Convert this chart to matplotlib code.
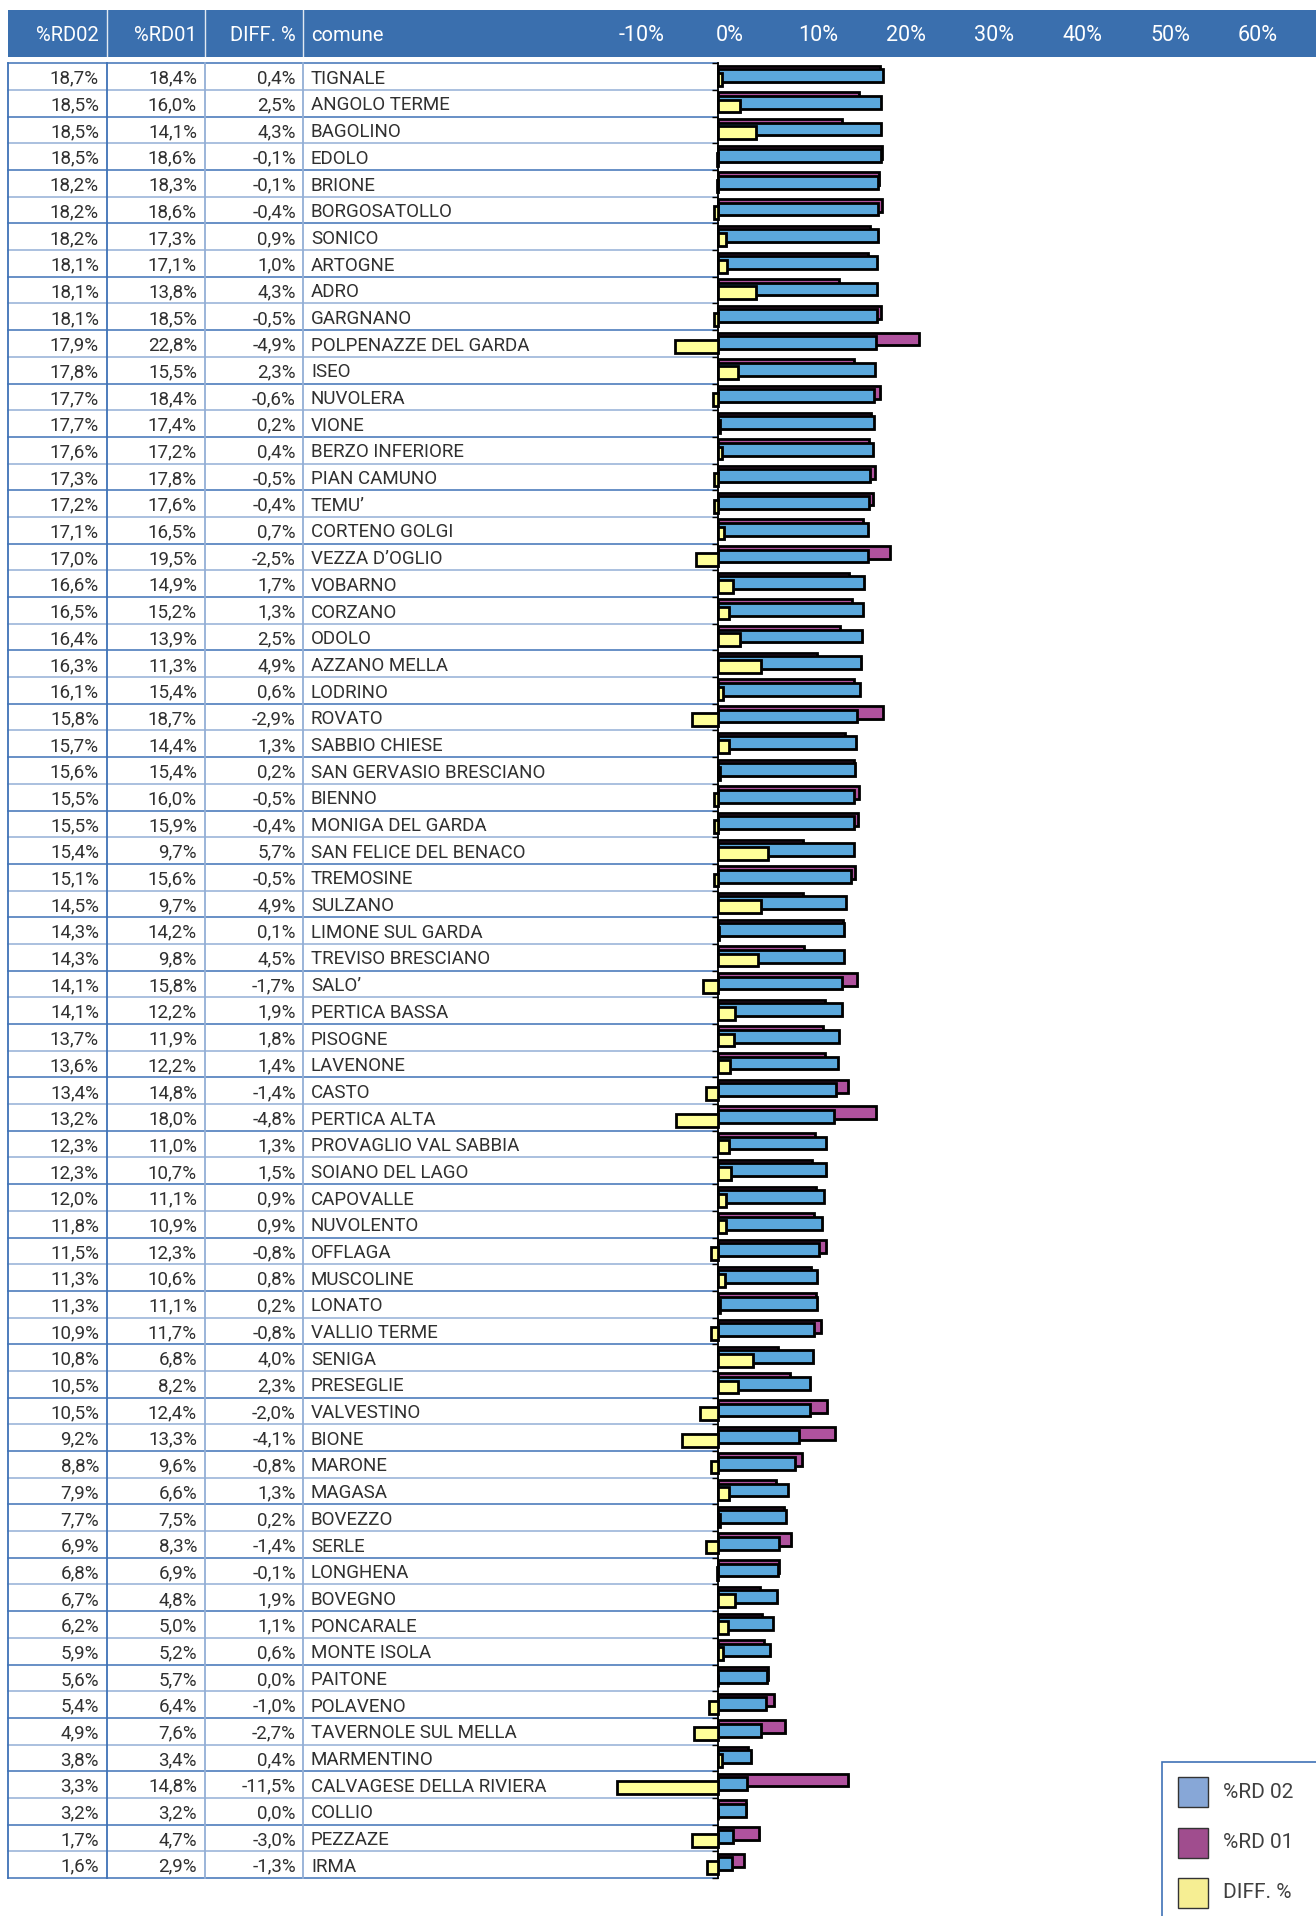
import matplotlib
matplotlib.use("Agg")
import matplotlib.pyplot as plt
from matplotlib.patches import Rectangle
from matplotlib.transforms import blended_transform_factory, ScaledTranslation
import matplotlib.patheffects as pe

# ---------------- data ----------------
comuni = [
    "TIGNALE", "ANGOLO TERME", "BAGOLINO", "EDOLO", "BRIONE", "BORGOSATOLLO",
    "SONICO", "ARTOGNE", "ADRO", "GARGNANO", "POLPENAZZE DEL GARDA", "ISEO",
    "NUVOLERA", "VIONE", "BERZO INFERIORE", "PIAN CAMUNO", "TEMU’",
    "CORTENO GOLGI", "VEZZA D’OGLIO", "VOBARNO", "CORZANO", "ODOLO",
    "AZZANO MELLA", "LODRINO", "ROVATO", "SABBIO CHIESE",
    "SAN GERVASIO BRESCIANO", "BIENNO", "MONIGA DEL GARDA",
    "SAN FELICE DEL BENACO", "TREMOSINE", "SULZANO", "LIMONE SUL GARDA",
    "TREVISO BRESCIANO", "SALO’", "PERTICA BASSA", "PISOGNE", "LAVENONE",
    "CASTO", "PERTICA ALTA", "PROVAGLIO VAL SABBIA", "SOIANO DEL LAGO",
    "CAPOVALLE", "NUVOLENTO", "OFFLAGA", "MUSCOLINE", "LONATO",
    "VALLIO TERME", "SENIGA", "PRESEGLIE", "VALVESTINO", "BIONE", "MARONE",
    "MAGASA", "BOVEZZO", "SERLE", "LONGHENA", "BOVEGNO", "PONCARALE",
    "MONTE ISOLA", "PAITONE", "POLAVENO", "TAVERNOLE SUL MELLA",
    "MARMENTINO", "CALVAGESE DELLA RIVIERA", "COLLIO", "PEZZAZE", "IRMA",
]
rd02 = [18.7, 18.5, 18.5, 18.5, 18.2, 18.2, 18.2, 18.1, 18.1, 18.1, 17.9, 17.8,
        17.7, 17.7, 17.6, 17.3, 17.2, 17.1, 17.0, 16.6, 16.5, 16.4, 16.3, 16.1,
        15.8, 15.7, 15.6, 15.5, 15.5, 15.4, 15.1, 14.5, 14.3, 14.3, 14.1, 14.1,
        13.7, 13.6, 13.4, 13.2, 12.3, 12.3, 12.0, 11.8, 11.5, 11.3, 11.3, 10.9,
        10.8, 10.5, 10.5, 9.2, 8.8, 7.9, 7.7, 6.9, 6.8, 6.7, 6.2, 5.9, 5.6, 5.4,
        4.9, 3.8, 3.3, 3.2, 1.7, 1.6]
rd01 = [18.4, 16.0, 14.1, 18.6, 18.3, 18.6, 17.3, 17.1, 13.8, 18.5, 22.8, 15.5,
        18.4, 17.4, 17.2, 17.8, 17.6, 16.5, 19.5, 14.9, 15.2, 13.9, 11.3, 15.4,
        18.7, 14.4, 15.4, 16.0, 15.9, 9.7, 15.6, 9.7, 14.2, 9.8, 15.8, 12.2,
        11.9, 12.2, 14.8, 18.0, 11.0, 10.7, 11.1, 10.9, 12.3, 10.6, 11.1, 11.7,
        6.8, 8.2, 12.4, 13.3, 9.6, 6.6, 7.5, 8.3, 6.9, 4.8, 5.0, 5.2, 5.7, 6.4,
        7.6, 3.4, 14.8, 3.2, 4.7, 2.9]
diff = [0.4, 2.5, 4.3, -0.1, -0.1, -0.4, 0.9, 1.0, 4.3, -0.5, -4.9, 2.3,
        -0.6, 0.2, 0.4, -0.5, -0.4, 0.7, -2.5, 1.7, 1.3, 2.5, 4.9, 0.6,
        -2.9, 1.3, 0.2, -0.5, -0.4, 5.7, -0.5, 4.9, 0.1, 4.5, -1.7, 1.9,
        1.8, 1.4, -1.4, -4.8, 1.3, 1.5, 0.9, 0.9, -0.8, 0.8, 0.2, -0.8,
        4.0, 2.3, -2.0, -4.1, -0.8, 1.3, 0.2, -1.4, -0.1, 1.9, 1.1, 0.6, 0.0, -1.0,
        -2.7, 0.4, -11.5, 0.0, -3.0, -1.3]
header_cols = ["%RD02", "%RD01", "DIFF. %", "comune"]
axis_ticks = [-10, 0, 10, 20, 30, 40, 50, 60]
legend_labels = ["%RD 02", "%RD 01", "DIFF. %"]

# ---------------- style ----------------
FONT = ["Roboto", "DejaVu Sans"]
plt.rcParams["font.family"] = FONT
HEAD_BLUE = "#3A6FAE"
LINE_DARK = "#3F72B6"
LINE_LIGHT = "#93AFD6"
TXT = "#303030"
C_BLUE, C_PURP, C_YEL = "#5BA8DC", "#B0529E", "#FFFF99"
L_BLUE, L_PURP, L_YEL = "#87A7D7", "#A04D8E", "#F6EE93"

W, H = 1316, 1916
fig = plt.figure(figsize=(W / 100, H / 100), dpi=100)
fig.patch.set_facecolor("white")

# background / table axes in pixel coordinates
tab = fig.add_axes([0, 0, 1, 1])
tab.set_xlim(0, W)
tab.set_ylim(H, 0)
tab.axis("off")

n = len(comuni)
TOP, BOT = 63.3, 1878.0
ZERO_PX, PX_PER = 718.0, 8.8
AX_L = 303.0

ax = fig.add_axes([AX_L / W, (H - BOT) / H, (W - AX_L) / W, (BOT - TOP) / H])
ax.set_facecolor("none")
ax.set_xlim((AX_L - ZERO_PX) / PX_PER, (W - ZERO_PX) / PX_PER)
ax.set_ylim(n, 0)
for s in ["top", "right", "bottom"]:
    ax.spines[s].set_visible(False)
ax.spines["left"].set_position(("data", 0))
ax.spines["left"].set_linewidth(1.3)
ax.set_yticks(range(n + 1))
ax.set_yticklabels([])
ax.tick_params(axis="y", length=4, width=1.0, direction="out", color="black")
ax.set_xticks([])

# ---------------- header ----------------
tab.add_patch(Rectangle((8, 10), W - 8, 46.7, facecolor=HEAD_BLUE, edgecolor="none", zorder=1))
for xs in [107, 205, 303]:
    tab.plot([xs, xs], [10, 56.7], color="white", lw=1.0, alpha=0.85, zorder=2)
hy = 35.5
col_right = [99, 197, 296]
for txt, xr in zip(header_cols[:3], col_right):
    tab.text(xr, hy, txt, color="white", fontsize=14.5, ha="right", va="center", zorder=3)
tab.text(311, hy, header_cols[3], color="white", fontsize=14.5, ha="left", va="center", zorder=3)

hdr_trans = blended_transform_factory(ax.transData, tab.transData) + \
    ScaledTranslation(12 / 100, 0, fig.dpi_scale_trans)
for v in axis_ticks:
    ax.text(v, hy, f"{v}%", transform=hdr_trans, color="white", fontsize=15.5,
            ha="center", va="center", zorder=5)

# ---------------- table ----------------
rowtr = blended_transform_factory(tab.transData, ax.transData)
for i in range(n + 1):
    c = LINE_DARK if i % 2 == 0 else LINE_LIGHT
    tab.plot([8, ZERO_PX], [i, i], transform=rowtr, color=c, lw=1.1, zorder=2)
for xs, c in zip([8, 107, 205, 303], [LINE_DARK, LINE_DARK, LINE_LIGHT, LINE_LIGHT]):
    tab.plot([xs, xs], [0, n], transform=rowtr, color=c, lw=1.3, zorder=2)


def fmt(v):
    return f"{v:.1f}%".replace(".", ",")


for i in range(n):
    y = i + 0.58
    for vals, xr in zip([rd02, rd01, diff], col_right):
        tab.text(xr, y, fmt(vals[i]), transform=rowtr, color=TXT, fontsize=13.5,
                 ha="right", va="center", zorder=3)
    tab.text(311, y, comuni[i], transform=rowtr, color=TXT, fontsize=13.5,
             ha="left", va="center", zorder=3)

# ---------------- bars ----------------
bh = 0.48
ypos = list(range(n))
shadow = [pe.SimplePatchShadow(offset=(1.2, -1.2), shadow_rgbFace="0.35", alpha=0.45), pe.Normal()]
kw = dict(height=bh, edgecolor="black", linewidth=2.0, align="edge")
bp = ax.barh([y + 0.09 for y in ypos], rd01, color=C_PURP, zorder=3, **kw)
bb = ax.barh([y + 0.22 for y in ypos], rd02, color=C_BLUE, zorder=4, **kw)
by = ax.barh([y + 0.36 for y in ypos], diff, color=C_YEL, zorder=5, **kw)
for bars in (bp, bb, by):
    for r in bars:
        r.set_path_effects(shadow)

# ---------------- legend ----------------
tab.add_patch(Rectangle((1162, 1762), 200, 200, facecolor="white", edgecolor=LINE_DARK,
                        lw=1.2, zorder=4))
for k, (lab, col) in enumerate(zip(legend_labels, [L_BLUE, L_PURP, L_YEL])):
    yk = 1777 + k * 50.5
    tab.add_patch(Rectangle((1178, yk), 30, 30, facecolor=col, edgecolor="#333333",
                            lw=1.0, zorder=5))
    tab.text(1223, yk + 15, lab, color="#404040", fontsize=15, ha="left", va="center", zorder=5)

fig.savefig("out.png", dpi=100, facecolor="white")
